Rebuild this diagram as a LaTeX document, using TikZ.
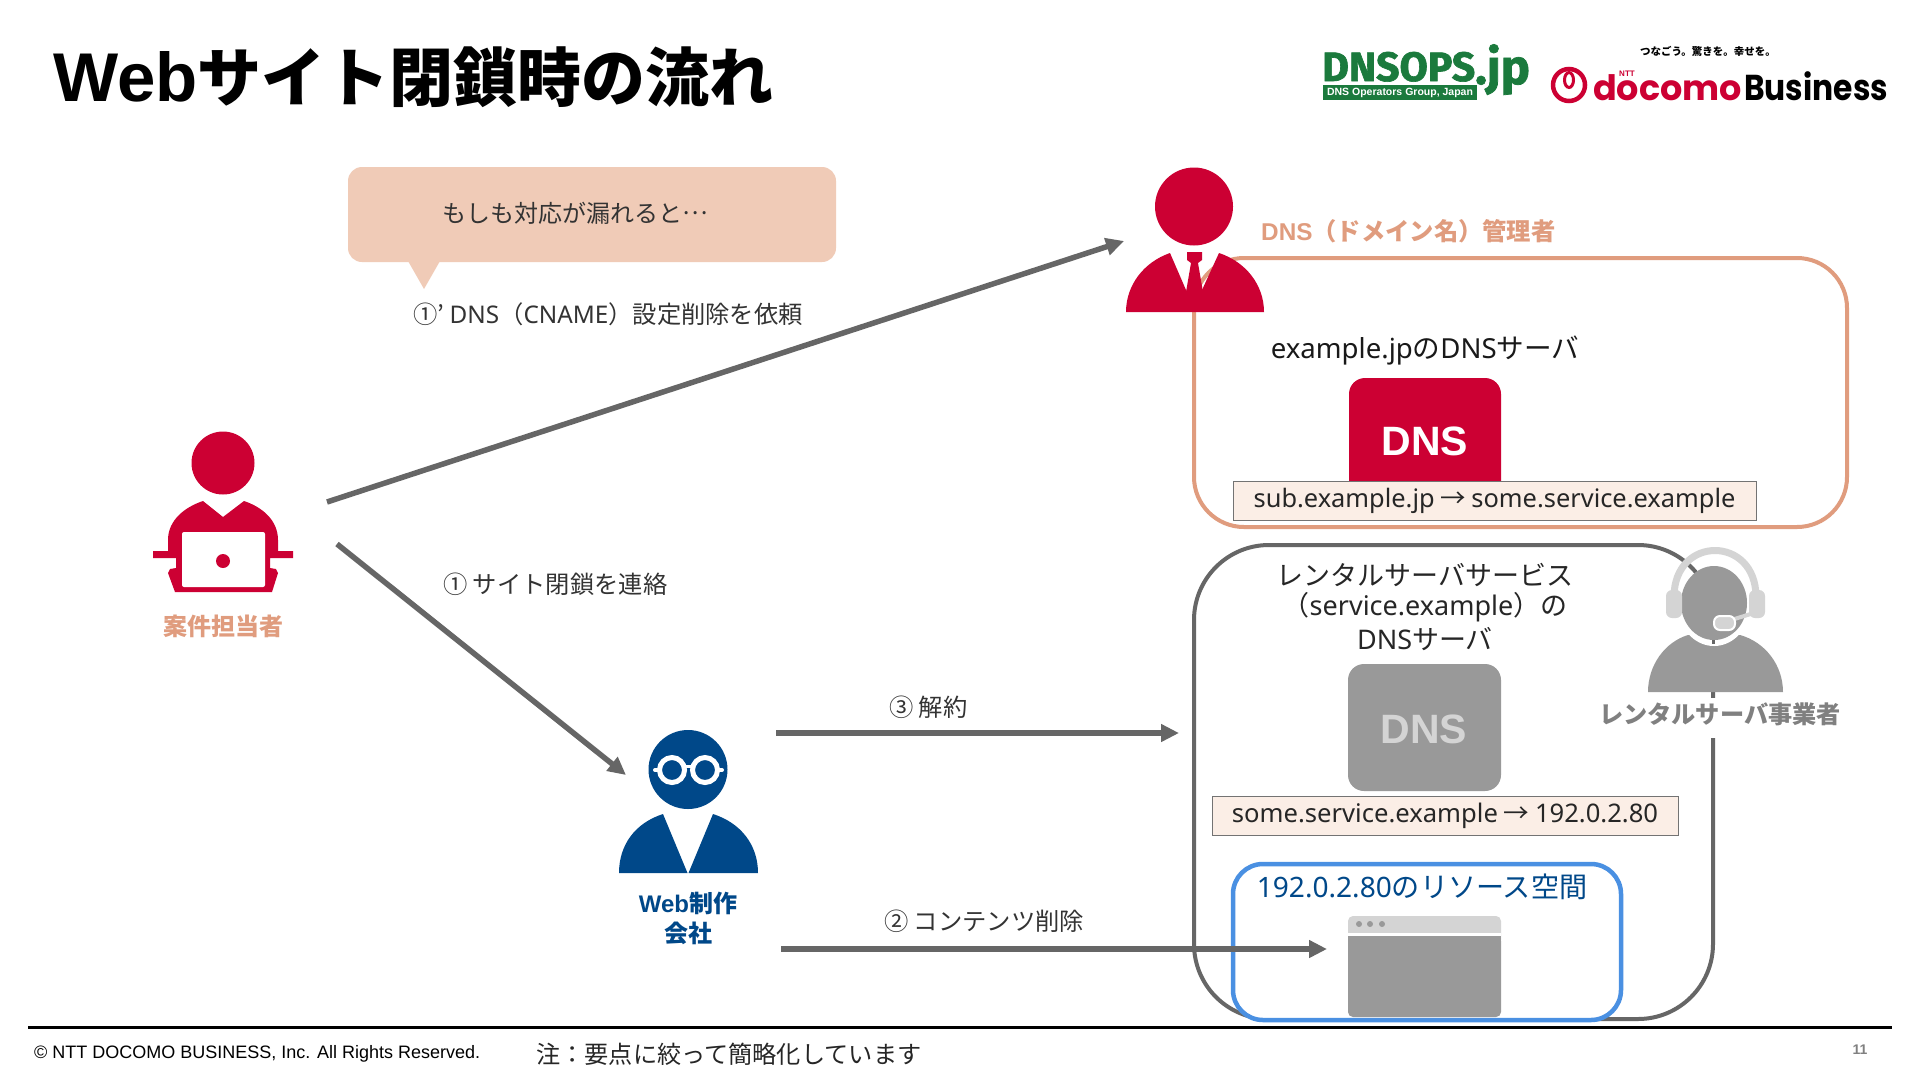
\documentclass[tikz,border=0pt]{standalone}
\usepackage{graphicx}
\usepackage{fontspec}
\usetikzlibrary{arrows.meta}
\setmainfont{Noto Sans CJK JP}
\newfontfamily\jp{Noto Sans CJK JP}
\newfontfamily\lt{Noto Sans}
\newfontfamily\ar{Liberation Sans}
\newfontfamily\pop{Poppins}
\newfontfamily\fir[BoldFeatures={FakeBold=1.5}]{Fira Sans}
\newcommand{\fs}[1]{\fontsize{#1}{#1}\selectfont}
\definecolor{nttred}{HTML}{CC0033}
\definecolor{nttblue}{HTML}{004889}
\definecolor{peach}{HTML}{E09C7E}
\definecolor{bubble}{HTML}{F0CBB7}
\definecolor{cream}{HTML}{FBEEE6}
\definecolor{arrowgray}{HTML}{666666}
\definecolor{midgray}{HTML}{999999}
\definecolor{lightgray2}{HTML}{D4D4D4}
\definecolor{skyblue}{HTML}{4A90E2}
\definecolor{dnsgreen}{HTML}{1B7A3D}
\tikzset{
  flow/.style={draw=arrowgray,line width=5.5pt,-{Triangle[length=18pt,width=17pt]}},
  lab/.style={inner sep=0pt,text=black!80,anchor=west,font=\fs{24.3}},
  recordbox/.style={draw=black!55,line width=0.8pt,fill=cream,inner sep=0pt,text=black!85},
  boxtext/.style={inner sep=0pt,align=center,text=black!90},
  rolelab/.style={inner sep=0pt,align=center,font=\fs{24}\bfseries}
}
\begin{document}
\begin{tikzpicture}[x=1pt,y=-1pt]
\useasboundingbox (0,0) rectangle (1920,1080);
\fill[white] (0,0) rectangle (1920,1080);
% title
\node[inner sep=0pt,anchor=base west] (title) at (53,101) {\fs{64}\bfseries{\fs{69}\ar Web}サイト閉鎖時の流れ};
% logos
\fill[dnsgreen] (1323,85) rectangle (1477,100);
\node[inner sep=0pt,anchor=base west,text=dnsgreen] (dnsops) at (1322,81) {\fs{41}\fir\bfseries DNSOPS};
\node[inner sep=0pt,anchor=base west,text=dnsgreen] (dnsjp) at (1475,84) {\fs{49}\fir\bfseries .jp};
\node[inner sep=0pt,text=white] (dnsbar) at (1400,92.5) {\fs{10.5}\ar\bfseries DNS Operators Group, Japan};
\draw[nttred,line width=4.5pt] (1569,85) circle (16);
\draw[nttred,line width=3pt] (1569,80) ellipse (4.5 and 7.5);
\node[inner sep=0pt,anchor=base west,text=nttred] (docomo) at (1593,100) {\fs{35}\pop\bfseries docomo};
\node[inner sep=0pt,text=nttred] (nttmark) at (1627,74) {\fs{8}\ar\bfseries NTT};
\node[inner sep=0pt,anchor=base west] (biz) at (1744,100) {\scalebox{.87}[1]{\fs{36}\pop\bfseries Business}};
\node[inner sep=0pt] (tagline) at (1708,51) {\fs{10.5}\bfseries つなごう。驚きを。幸せを。};
% speech bubble
\fill[bubble,rounded corners=14pt] (348,167) rectangle (836,262);
\fill[bubble] (408,261) -- (440,261) -- (424,289) -- cycle;
\node[inner sep=0pt,text=black!80] (bubbletext) at (575,213) {\fs{24}もしも対応が漏れると\raisebox{.3em}{…}};
% DNS admin box
\draw[peach,line width=4pt,rounded corners=50pt] (1194,258) rectangle (1847,527);
\node[inner sep=0pt,text=peach,anchor=west] (adminlab) at (1261,231) {\fs{24.3}\bfseries{\ar DNS}（ドメイン名）管理者};
\node[boxtext,anchor=base] (exdns) at (1425,358) {\fs{27.6}{\lt example.jp}の{\lt DNS}サーバ};
% red DNS icon
\fill[nttred,rounded corners=16pt] (1349,378) rectangle (1501,510);
\node[inner sep=0pt,text=white] (dnsred) at (1425,441) {\fs{41}\ar\bfseries DNS};
\node[recordbox,minimum width=523pt,minimum height=39pt] (rec1) at (1494.5,501) {\fs{25.4}{\lt sub.example.jp} → {\lt some.service.example}};
% rental box
\draw[arrowgray,line width=4pt,rounded corners=75pt] (1194,545) rectangle (1713,1019);
\node[boxtext,text=black!85,align=center] (rentaltext) at (1425,607) {\fs{27}レンタルサーバサービス\\[5pt]\fs{27}（{\lt service.example}）の\\[4pt]\fs{27}{\lt DNS}サーバ};
\fill[midgray,rounded corners=16pt] (1348,664) rectangle (1501,791);
\node[inner sep=0pt,text=lightgray2] (dnsgray) at (1424,729) {\fs{41}\ar\bfseries DNS};
\node[recordbox,minimum width=466pt,minimum height=39pt] (rec2) at (1445,815.5) {\fs{25.6}{\lt some.service.example} → {\lt 192.0.2.80}};
% resource box
\draw[skyblue,fill=white,line width=4.5pt,rounded corners=30pt] (1233,864) rectangle (1621,1020);
\node[inner sep=0pt,text=nttblue] (restext) at (1422,887) {\fs{28.1}{\lt 192.0.2.80}のリソース空間};
\fill[lightgray2,rounded corners=5pt] (1348,916) rectangle (1501,945);
\fill[white] (1348,933) rectangle (1501,936);
\fill[midgray,rounded corners=5pt] (1348,936) -- (1501,936) -- (1501,1017) -- (1348,1017) -- cycle;
\fill[midgray] (1348,936) rectangle (1501,950);
\foreach \dx in {1359,1370,1382}{\fill[midgray] (\dx,924) circle (3);}
% case manager
\fill[nttred] (223,463) circle (31.5);
\fill[nttred] (168,551) -- (168,540) .. controls (168,520) and (185,507) .. (203,501) -- (223,517) -- (244,501) .. controls (262,507) and (278,520) .. (278,540) -- (278,551) -- (293,551) -- (293,558) -- (270,558) -- (270,568) -- (276,569) -- (278,573) -- (272,592) -- (175,592) -- (168,573) -- (170,569) -- (176,568) -- (176,558) -- (153,558) -- (153,551) -- cycle;
\fill[white,rounded corners=2pt] (182,532) rectangle (265,587);
\fill[nttred] (223,561) circle (7);
\node[rolelab,text=peach] (casemgr) at (223,626) {案件担当者};
% dns admin person
\fill[nttred] (1194,206.5) circle (39);
\fill[nttred] (1170,253) -- (1186,290) -- (1194,300) -- (1202,290) -- (1219,253) .. controls (1246,262) and (1264,285) .. (1264,312) -- (1126,312) .. controls (1126,285) and (1144,262) .. (1170,253) -- cycle;
\fill[nttred] (1187,252) -- (1202,252) -- (1202,260) -- (1198,263) -- (1203,292) -- (1194,305) -- (1186,292) -- (1191,263) -- (1187,260) -- cycle;
% web person
\fill[nttblue] (688,769.5) circle (39.5);
\draw[white,line width=5pt] (672,770) circle (12.5);
\draw[white,line width=5pt] (705,770) circle (12.5);
\draw[white,line width=3pt] (684,766) -- (693,766);
\draw[white,line width=4pt,line cap=round] (655,770) -- (659,770);
\draw[white,line width=4pt,line cap=round] (718,770) -- (722,770);
\fill[nttblue] (663,814) -- (687.5,873) -- (619,873) .. controls (619,845) and (635,823) .. (663,814) -- cycle;
\fill[nttblue] (713,814) -- (688.5,873) -- (758,873) .. controls (758,845) and (741,823) .. (713,814) -- cycle;
\node[rolelab,text=nttblue] (weblab) at (688,918) {{\ar Web}制作\\[6pt]会社};
% rental person
\node[inner sep=0pt,fill=white,minimum height=40pt,minimum width=240pt] (rentallab) at (1720,718) {};
\node[inner sep=0pt,text=black!50] (rentallabt) at (1720,714) {\fs{24.2}\bfseries レンタルサーバ事業者};
\fill[midgray] (1688,635) -- (1740,635) .. controls (1765,642) and (1783,665) .. (1783,692) -- (1648,692) .. controls (1648,665) and (1665,642) .. (1688,635) -- cycle;
\begin{scope}
\clip (1670,620) rectangle (1760,660);
\draw[white,fill=white,line width=4pt] (1714,603) ellipse (35 and 41);
\end{scope}
\draw[arrowgray,line width=3pt] (1713,638) -- (1713,644);
\fill[midgray] (1714,603) ellipse (33 and 37);
\draw[lightgray2,line width=7pt] (1674,597) .. controls (1674,535) and (1756,535) .. (1756,597);
\fill[lightgray2,rounded corners=6pt] (1666,590) rectangle (1682,618);
\fill[lightgray2,rounded corners=6pt] (1749,590) rectangle (1765,618);
\draw[lightgray2,line width=4pt] (1757,612) -- (1728,621);
\draw[white,line width=2pt,fill=lightgray2,rounded corners=6pt] (1714,616) rectangle (1735,630);
% arrow ends
\coordinate (a1s) at (327,502);
\coordinate (a1e) at (1124,241);
\coordinate (a2s) at (337,544);
\coordinate (a2e) at (626,775);
\coordinate (a3s) at (776,733);
\coordinate (a3e) at (1179,733);
\coordinate (a4s) at (781,949);
\coordinate (a4e) at (1327,949);
\draw[flow] (a1s) -- (a1e);
\draw[flow] (a2s) -- (a2e);
\draw[flow] (a3s) -- (a3e);
\draw[flow] (a4s) -- (a4e);
% arrow labels
\node[lab] (l1p) at (413,314) {①' {\lt DNS}（{\lt CNAME}）設定削除を依頼};
\node[lab] (l1) at (443,584) {① サイト閉鎖を連絡};
\node[lab] (l3) at (889,707) {③ 解約};
\node[lab] (l2) at (884,921) {② コンテンツ削除};
% footer
\coordinate (fl) at (28,1027);
\coordinate (fr) at (1892,1027);
\draw[black,line width=3pt] (fl) -- (fr);
\node[inner sep=0pt,anchor=west] (copy) at (34,1053.5) {\fs{18}\ar © NTT DOCOMO BUSINESS, Inc. All Rights Reserved.};
\node[inner sep=0pt,anchor=west,text=black!85] (note) at (536,1054) {\fs{24.2}注：要点に絞って簡略化しています};
\node[inner sep=0pt,text=black!50] (pagenum) at (1860,1050) {\fs{14}\ar\bfseries 11};
\end{tikzpicture}
\end{document}
